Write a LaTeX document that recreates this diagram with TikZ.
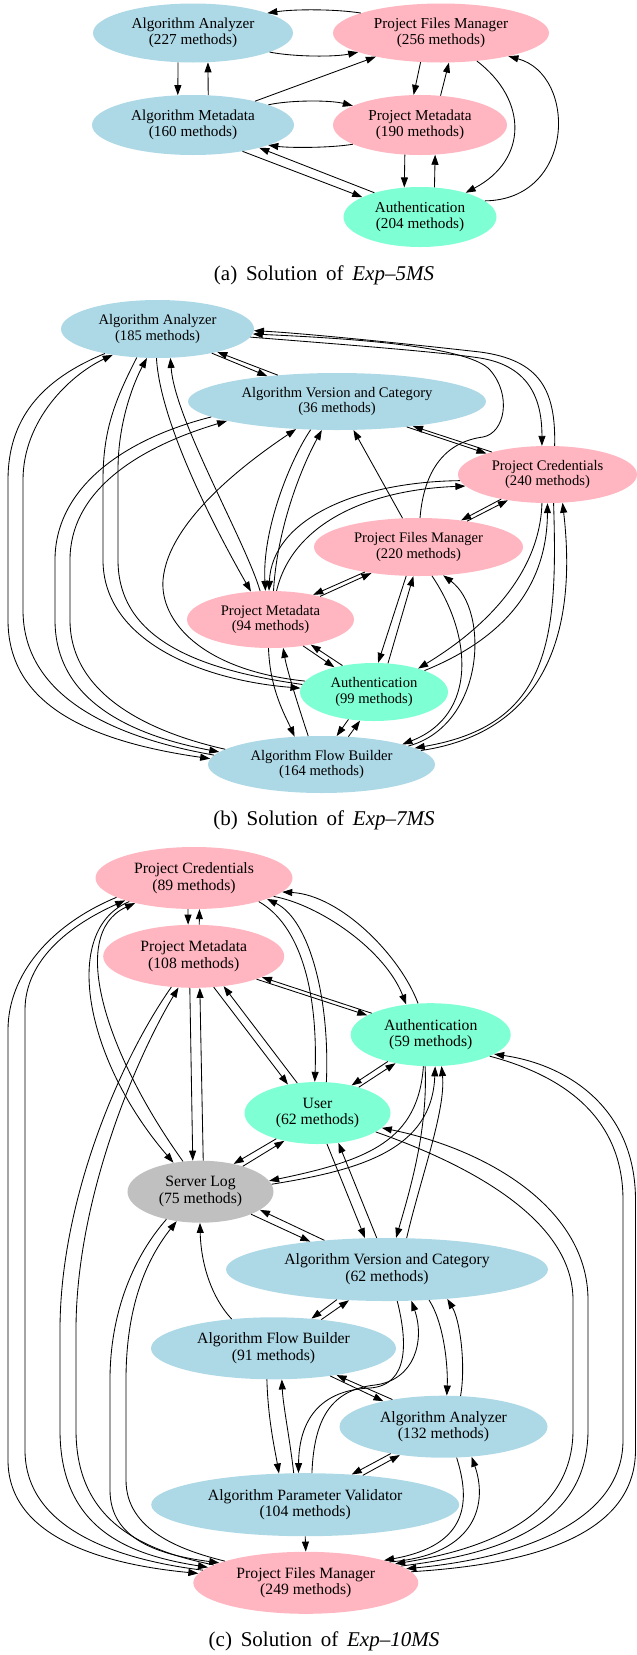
\documentclass[tikz,border=0pt]{standalone}
\usepackage{fontspec}
\setmainfont{Liberation Serif}
\usetikzlibrary{shapes.geometric,arrows.meta}
\definecolor{nblue}{RGB}{173,216,230}
\definecolor{npink}{RGB}{255,182,193}
\definecolor{ngreen}{RGB}{127,255,212}
\definecolor{ngray}{RGB}{192,192,192}
\begin{document}
\begin{tikzpicture}[x=1pt,y=-1pt,
 nd/.style={ellipse, inner sep=0pt, align=center, draw=none},
 fnta/.style={font=\fontsize{15.2}{16}\selectfont},
 fntb/.style={font=\fontsize{14.6}{15.7}\selectfont},
 fntc/.style={font=\fontsize{15.7}{16.7}\selectfont},
 nblu/.style={fill=nblue}, npk/.style={fill=npink}, ngr/.style={fill=ngreen}, ngy/.style={fill=ngray},
 edg/.style={draw=black, line width=0.85pt, -{Triangle[length=10pt,width=7pt]}},
 captxt/.style={font=\fontsize{21}{25}\selectfont}]
\useasboundingbox (0,0) rectangle (637,1655);

% ---------------- (a) ----------------
\node[nd,fnta,nblu,minimum width=200pt,minimum height=59pt] (aAA) at (193,33) {Algorithm Analyzer\\(227 methods)};
\node[nd,fnta,npk,minimum width=216pt,minimum height=59pt] (aPFM) at (441,33) {Project Files Manager\\(256 methods)};
\node[nd,fnta,nblu,minimum width=202pt,minimum height=60pt] (aAM) at (193,125) {Algorithm Metadata\\(160 methods)};
\node[nd,fnta,npk,minimum width=174pt,minimum height=60pt] (aPM) at (420,125) {Project Metadata\\(190 methods)};
\node[nd,fnta,ngr,minimum width=153pt,minimum height=60pt] (aAu) at (420,217) {Authentication\\(204 methods)};

\draw[edg] (aPFM.166) .. controls (335,9) and (295,9) .. (aAA.15);
\draw[edg] (aAA.-14) .. controls (295,57) and (335,57) .. (aPFM.193);
\draw[edg] (aAA.-117) -- (aAM.117);
\draw[edg] (aAM.63) -- (aAA.-63);
\draw[edg] (aAM.21) -- (aPFM.200);
\draw[edg] (aAM.15) .. controls (290,100) and (330,100) .. (aPM.164);
\draw[edg] (aPM.196) .. controls (330,148) and (290,148) .. (aAM.-15);
\draw[edg] (aAM.-28) -- (aAu.161);
\draw[edg] (aAu.152) -- (aAM.-19);
\draw[edg] (aPFM.235) -- (aPM.102);
\draw[edg] (aPM.55) -- (aPFM.-75);
\draw[edg] (aPM.243) -- (aAu.118);
\draw[edg] (aAu.64) -- (aPM.-63);
\draw[edg] (aPFM.-38) .. controls (528,100) and (528,160) .. (aAu.28);
\draw[edg] (aAu.14) .. controls (575,200) and (578,75) .. (aPFM.-19);

\node[captxt] (capa) at (324,275) {(a)\hspace{0.42em}Solution\hspace{0.42em}of\hspace{0.42em}\textit{Exp--5MS}};

% ---------------- (b) ----------------
\node[nd,fntb,nblu,minimum width=193pt,minimum height=58pt] (bAA) at (157.5,329) {Algorithm Analyzer\\(185 methods)};
\node[nd,fntb,nblu,minimum width=298pt,minimum height=57pt] (bAVC) at (337,401.5) {Algorithm Version and Category\\(36 methods)};
\node[nd,fntb,npk,minimum width=179pt,minimum height=57pt] (bPC) at (547.5,474.5) {Project Credentials\\(240 methods)};
\node[nd,fntb,npk,minimum width=209pt,minimum height=58pt] (bPFM) at (418.5,547) {Project Files Manager\\(220 methods)};
\node[nd,fntb,npk,minimum width=167pt,minimum height=57pt] (bPM) at (270.5,619.5) {Project Metadata\\(94 methods)};
\node[nd,fntb,ngr,minimum width=148pt,minimum height=58pt] (bAu) at (374,692) {Authentication\\(99 methods)};
\node[nd,fntb,nblu,minimum width=227pt,minimum height=57pt] (bAFB) at (321.5,764.5) {Algorithm Flow Builder\\(164 methods)};

\draw[edg] (bAA.-24) -- (bAVC.160);
\draw[edg] (bAVC.156) -- (bAA.-21);
\draw[edg] (bAA.-5) .. controls (350,345) and (440,352) .. (480,358) .. controls (530,366) and (542,400) .. (bPC.101);
\draw[edg] (bPC.76) .. controls (556,390) and (540,360) .. (480,352) .. controls (400,343) and (300,333) .. (bAA.-1);
\draw[edg] (bPFM.87) .. controls (424,470) and (445,442) .. (483,437) .. controls (505,433) and (512,395) .. (490,370) .. controls (468,345) and (340,338) .. (bAA.-3);
\draw[edg] (bAVC.-20) -- (bPC.161);
\draw[edg] (bPC.158) -- (bAVC.-18);
\draw[edg] (bPFM.119) -- (bAVC.-60);
\draw[edg] (bPFM.28) -- (bPC.213);
\draw[edg] (bPC.208) -- (bPFM.32);
\draw[edg] (bPC.184) .. controls (355,482) and (272,520) .. (bPM.93);
\draw[edg] (bPM.78) .. controls (292,525) and (365,490) .. (bPC.188);
\draw[edg] (bAA.-92) .. controls (160,420) and (210,520) .. (bPM.125);
\draw[edg] (bPM.110) .. controls (245,540) and (175,420) .. (bAA.-66);
\draw[edg] (bAVC.-133) .. controls (290,460) and (262,530) .. (bPM.100);
\draw[edg] (bPM.84) .. controls (277,530) and (300,470) .. (bAVC.-118);
\draw[edg] (bPFM.205) -- (bPM.30);
\draw[edg] (bPM.25) -- (bPFM.209);
\draw[edg] (bPFM.-113) -- (bAu.82);
\draw[edg] (bAu.64) -- (bPFM.-100);
\draw[edg] (bPFM.-65) .. controls (472,635) and (478,715) .. (bAFB.14);
\draw[edg] (bAFB.12) .. controls (485,725) and (490,610) .. (bPFM.-49);
\draw[edg] (bPC.-101) .. controls (540,570) and (490,625) .. (bAu.28);
\draw[edg] (bAu.23) .. controls (500,640) and (547,590) .. (bPC.-90);
\draw[edg] (bPC.-78) .. controls (558,640) and (550,725) .. (bAFB.10);
\draw[edg] (bAFB.8) .. controls (560,730) and (575,610) .. (bPC.-62);
\draw[edg] (bAu.-133) -- (bAFB.62);
\draw[edg] (bAFB.46) -- (bAu.-116);
\draw[edg] (bPM.-39) -- (bAu.148);
\draw[edg] (bAu.140) -- (bPM.-32);
\draw[edg] (bPM.-94) .. controls (270,690) and (285,715) .. (bAFB.134);
\draw[edg] (bAFB.115) .. controls (298,705) and (287,670) .. (bPM.-66);
\draw[edg] (bAA.205) .. controls (40,380) and (8,420) .. (8,480) -- (8,620) .. controls (8,700) and (80,740) .. (bAFB.177);
\draw[edg] (bAFB.175) .. controls (100,735) and (23,690) .. (23,610) -- (23,480) .. controls (23,420) and (70,375) .. (bAA.210);
\draw[edg] (bAA.-126) .. controls (115,400) and (103,430) .. (103,480) -- (103,560) .. controls (103,640) and (200,680) .. (bAu.177);
\draw[edg] (bAu.174) .. controls (200,670) and (118,640) .. (118,560) -- (118,470) .. controls (118,420) and (135,380) .. (bAA.-110);
\draw[edg] (bAu.171) .. controls (200,670) and (160,620) .. (163,580) .. controls (168,520) and (250,460) .. (bAVC.-146);
\draw[edg] (bAVC.187) .. controls (120,440) and (55,490) .. (55,560) -- (55,620) .. controls (55,700) and (130,735) .. (bAFB.173);
\draw[edg] (bAFB.171) .. controls (140,730) and (70,690) .. (70,620) -- (70,560) .. controls (70,495) and (130,450) .. (bAVC.190);

\node[captxt] (capb) at (324,820) {(b)\hspace{0.42em}Solution\hspace{0.42em}of\hspace{0.42em}\textit{Exp--7MS}};

% ---------------- (c) ----------------
\node[nd,fntc,npk,minimum width=197pt,minimum height=62pt] (cPC) at (194,878) {Project Credentials\\(89 methods)};
\node[nd,fntc,npk,minimum width=181pt,minimum height=63pt] (cPMd) at (193.7,956.3) {Project Metadata\\(108 methods)};
\node[nd,fntc,ngr,minimum width=160pt,minimum height=63pt] (cAu) at (430.7,1034.7) {Authentication\\(59 methods)};
\node[nd,fntc,ngr,minimum width=146pt,minimum height=62pt] (cU) at (317.5,1113) {User\\(62 methods)};
\node[nd,fntc,ngy,minimum width=146pt,minimum height=62pt] (cSL) at (200.5,1191.7) {Server Log\\(75 methods)};
\node[nd,fntc,nblu,minimum width=322pt,minimum height=63pt] (cAVC) at (387,1269.5) {Algorithm Version and Category\\(62 methods)};
\node[nd,fntc,nblu,minimum width=245pt,minimum height=62pt] (cAFB) at (273.5,1348.3) {Algorithm Flow Builder\\(91 methods)};
\node[nd,fntc,nblu,minimum width=208pt,minimum height=62pt] (cAA) at (443.5,1426.7) {Algorithm Analyzer\\(132 methods)};
\node[nd,fntc,nblu,minimum width=308pt,minimum height=63pt] (cAPV) at (305.2,1504.7) {Algorithm Parameter Validator\\(104 methods)};
\node[nd,fntc,npk,minimum width=225pt,minimum height=62pt] (cPFM) at (305.8,1582.8) {Project Files Manager\\(249 methods)};

\draw[edg] (cPC.-101) -- (cPMd.100);
\draw[edg] (cPMd.80) -- (cPC.-80);
\draw[edg] (cPC.194) .. controls (50,925) and (8,975) .. (8,1030) -- (8,1460) .. controls (8,1540) and (110,1565) .. (cPFM.175);
\draw[edg] (cPFM.173) .. controls (120,1560) and (25,1530) .. (25,1450) -- (25,1010) .. controls (25,960) and (70,925) .. (cPC.198);
\draw[edg] (cPC.200) .. controls (60,930) and (85,1060) .. (cSL.133);
\draw[edg] (cSL.120) .. controls (110,1060) and (65,935) .. (cPC.203);
\draw[edg] (cPMd.-126) .. controls (120,1060) and (60,1200) .. (60,1330) -- (60,1430) .. controls (60,1530) and (130,1555) .. (cPFM.171);
\draw[edg] (cPFM.169) .. controls (140,1550) and (76,1520) .. (76,1430) -- (76,1330) .. controls (76,1200) and (135,1060) .. (cPMd.-116);
\draw[edg] (cSL.-141) .. controls (135,1255) and (110,1310) .. (110,1380) -- (110,1490) .. controls (110,1540) and (160,1555) .. (cPFM.167);
\draw[edg] (cPFM.165) .. controls (180,1550) and (126,1530) .. (126,1480) -- (126,1380) .. controls (126,1300) and (150,1255) .. (cSL.-129);
\draw[edg] (cPMd.-97) -- (cSL.104);
\draw[edg] (cSL.85) -- (cPMd.-79);
\draw[edg] (cPMd.-57) -- (cU.136);
\draw[edg] (cU.124) -- (cPMd.-45);
\draw[edg] (cPC.-20) .. controls (300,925) and (318,990) .. (cU.95);
\draw[edg] (cU.74) .. controls (330,1000) and (310,920) .. (cPC.-16);
\draw[edg] (cPC.-13) .. controls (320,905) and (385,950) .. (cAu.129);
\draw[edg] (cAu.112) .. controls (400,955) and (340,895) .. (cPC.-9);
\draw[edg] (cPMd.-20) -- (cAu.163);
\draw[edg] (cAu.160) -- (cPMd.-17);
\draw[edg] (cU.32) -- (cAu.-141);
\draw[edg] (cAu.-148) -- (cU.39);
\draw[edg] (cU.-148) -- (cSL.40);
\draw[edg] (cSL.31) -- (cU.-140);
\draw[edg] (cAu.-103) .. controls (418,1140) and (370,1160) .. (cSL.9);
\draw[edg] (cSL.6) .. controls (360,1170) and (432,1150) .. (cAu.-82);
\draw[edg] (cAu.-100) .. controls (428,1130) and (410,1190) .. (cAVC.74);
\draw[edg] (cAVC.58) .. controls (420,1180) and (446,1110) .. (cAu.-71);
\draw[edg] (cU.-73) -- (cAVC.125);
\draw[edg] (cAVC.108) -- (cU.-55);
\draw[edg] (cAu.-20) .. controls (580,1080) and (623,1130) .. (623,1200) -- (623,1440) .. controls (623,1530) and (500,1560) .. (cPFM.8);
\draw[edg] (cPFM.6) .. controls (520,1565) and (635.5,1540) .. (635.5,1450) -- (635.5,1200) .. controls (635.5,1110) and (570,1065) .. (cAu.-17);
\draw[edg] (cU.-18) .. controls (470,1165) and (573,1220) .. (573,1300) -- (573,1430) .. controls (573,1520) and (480,1550) .. (cPFM.12);
\draw[edg] (cPFM.10) .. controls (490,1555) and (588,1530) .. (588,1430) -- (588,1300) .. controls (588,1210) and (490,1150) .. (cU.-13);
\draw[edg] (cSL.-24) -- (cAVC.160);
\draw[edg] (cAVC.155) -- (cSL.-17);
\draw[edg] (cAFB.145) .. controls (212,1298) and (201,1265) .. (cSL.-91);
\draw[edg] (cAVC.-149) -- (cAFB.38);
\draw[edg] (cAFB.31) -- (cAVC.-141);
\draw[edg] (cAVC.-72) .. controls (407,1340) and (410,1385) .. (370,1388) .. controls (320,1390) and (299,1420) .. (cAPV.102);
\draw[edg] (cAPV.78) .. controls (314,1420) and (330,1390) .. (375,1385) .. controls (415,1380) and (425,1340) .. (cAVC.-52);
\draw[edg] (cAFB.-26) -- (cAA.157);
\draw[edg] (cAA.152) -- (cAFB.-23);
\draw[edg] (cAVC.-36) .. controls (445,1325) and (448,1370) .. (cAA.84);
\draw[edg] (cAA.61) .. controls (466,1365) and (460,1320) .. (cAVC.-26);
\draw[edg] (cAA.-153) -- (cAPV.33);
\draw[edg] (cAPV.27) -- (cAA.-147);
\draw[edg] (cAA.-67) .. controls (470,1500) and (470,1545) .. (cPFM.16);
\draw[edg] (cPFM.14) .. controls (480,1555) and (487,1500) .. (cAA.-47);
\draw[edg] (cAFB.-102) .. controls (268,1420) and (275,1450) .. (cAPV.130);
\draw[edg] (cAPV.110) .. controls (290,1440) and (283,1405) .. (cAFB.-75);
\draw[edg] (cAPV.south) -- (cPFM.north);

\node[captxt] (capc) at (324,1641) {(c)\hspace{0.42em}Solution\hspace{0.42em}of\hspace{0.42em}\textit{Exp--10MS}};
\end{tikzpicture}
\end{document}
